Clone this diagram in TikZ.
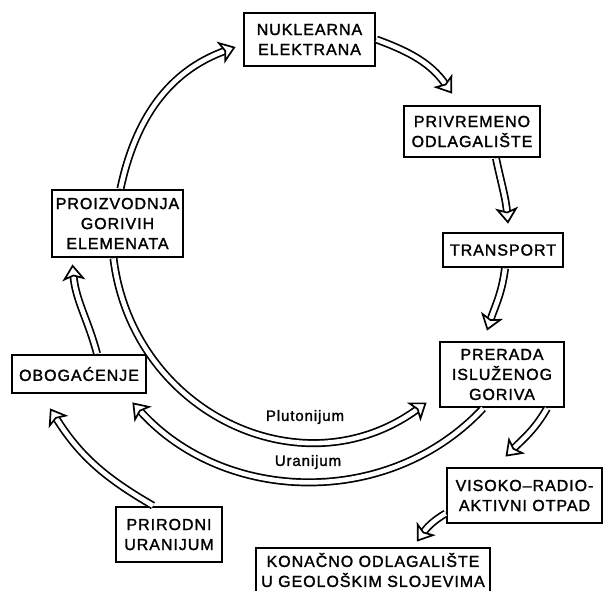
\documentclass[tikz,border=0pt]{standalone}
\usepackage{fontspec}
\newfontfamily\boxfont{Liberation Sans}[LetterSpace=6, FakeBold=1.6]
\usetikzlibrary{arrows.meta}

\begin{document}
\begin{tikzpicture}[x=1pt, y=1pt,
  stage/.style={draw, line width=2.8pt, align=center, inner sep=0pt,
    font=\boxfont\fontsize{16}{20}\selectfont},
  flow/.style={line width=1.7pt, double=white, double distance=4.6pt,
    -{Stealth[fill=white, inset=4pt, length=16pt, width=23pt, line width=1.7pt]}},
  tag/.style={font=\boxfont\fontsize{15}{18}\selectfont}]

  \useasboundingbox (0,0) rectangle (604,-590);

  % Stages of the cycle
  \node[stage, minimum width=131pt, minimum height=53pt] (nuk) at (309.5,-39.5) {NUKLEARNA\\ELEKTRANA};
  \node[stage, minimum width=136pt, minimum height=51pt] (priv) at (472,-131.5) {PRIVREMENO\\ODLAGALIŠTE};
  \node[stage, minimum width=120pt, minimum height=34pt] (trans) at (503,-250) {TRANSPORT};
  \node[stage, minimum width=131pt, minimum height=67pt] (proiz) at (117.5,-223.5) {PROIZVODNJA\\GORIVIH\\ELEMENATA};
  \node[stage, minimum width=134pt, minimum height=38pt] (obog) at (79,-374) {OBOGAĆENJE};
  \node[stage, minimum width=124pt, minimum height=65pt] (prer) at (502,-374.5) {PRERADA\\ISLUŽENOG\\GORIVA};
  \node[stage, minimum width=155pt, minimum height=55pt] (visok) at (524.5,-495.5) {VISOKO–RADIO-\\AKTIVNI OTPAD};
  \node[stage, minimum width=106pt, minimum height=55pt] (prir) at (169,-534.5) {PRIRODNI\\URANIJUM};
  \node[stage, minimum width=234pt, minimum height=44pt] (konac) at (373,-570) {KONAČNO ODLAGALIŠTE\\U GEOLOŠKIM SLOJEVIMA};

  % Main circle
  \draw[flow] ([xshift=3pt]proiz.north) to[out=78, in=200] ([xshift=-7pt,yshift=-7.5pt]nuk.west);
  \draw[flow] (nuk.east) to[out=-20, in=125] ([xshift=-20pt,yshift=11pt]priv.north);
  \draw[flow] ([xshift=24pt]priv.south) to[out=-78, in=95] ([xshift=5pt,yshift=8pt]trans.north);
  \draw[flow] ([xshift=2pt]trans.south) to[out=-97, in=72] ([xshift=-15pt,yshift=10pt]prer.north);
  \draw[flow] ([xshift=18pt]obog.north) to[out=105, in=-85] ([xshift=-45pt,yshift=-6pt]proiz.south);

  % Plutonijum and Uranijum
  \draw[flow] ([xshift=-4pt]proiz.south) to[out=-83, in=216, looseness=1.15] ([xshift=-12pt,yshift=-28pt]prer.west);
  \draw[flow] ([xshift=-19pt]prer.south) to[out=227, in=-48] ([xshift=-15pt,yshift=-8pt]obog.south east);
  \node[tag] (plu) at (305,-417) {Plutonijum};
  \node[tag] (ura) at (308,-462) {Uranijum};

  % Outer paths
  \draw[flow] ([xshift=-16pt]prir.north) to[out=150, in=-58] ([xshift=-29pt,yshift=-14pt]obog.south);
  \draw[flow] ([xshift=45pt]prer.south) to[out=240, in=45] ([xshift=-19pt,yshift=10pt]visok.north);
  \draw[flow] ([yshift=-18pt]visok.west) to[out=210, in=55] ([xshift=44pt,yshift=5pt]konac.north);
\end{tikzpicture}
\end{document}
